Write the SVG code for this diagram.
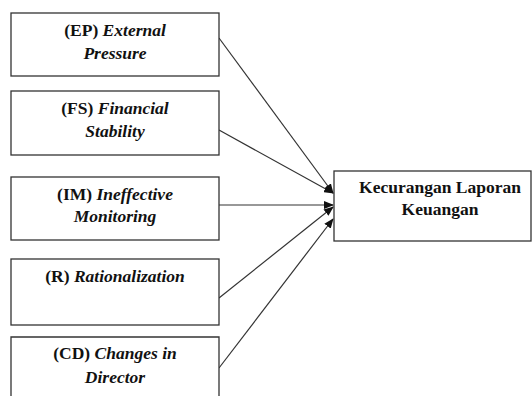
<svg xmlns="http://www.w3.org/2000/svg" width="532" height="396" viewBox="0 0 532 396">
<style>
.box{fill:#fff;stroke:#333;stroke-width:1.3}
.c{stroke:#333;stroke-width:1.2;fill:none;marker-end:url(#ah)}
</style>
<defs>
<marker id="ah" markerWidth="10" markerHeight="8" refX="9" refY="4" orient="auto" markerUnits="userSpaceOnUse">
<path d="M0,0 L10,4 L0,8 z" fill="#111"/>
</marker>
</defs>
<rect width="532" height="396" fill="#fff"/>
<g id="connectors">
<line class="c" x1="219" y1="38" x2="333" y2="193"/>
<line class="c" x1="219" y1="130" x2="333" y2="193"/>
<line class="c" x1="219" y1="205" x2="333" y2="205"/>
<line class="c" x1="219" y1="298" x2="333" y2="207"/>
<line class="c" x1="219" y1="368" x2="333" y2="219"/>
</g>
<g id="ep">
<rect class="box" x="11" y="13" width="208" height="63"/>
<text x="115" y="36" font-family="Liberation Serif" font-size="17.5" font-weight="bold" fill="#111" text-anchor="middle">(EP) <tspan font-style="italic">External</tspan></text>
<text x="115" y="59" font-family="Liberation Serif" font-size="17.5" font-weight="bold" font-style="italic" fill="#111" text-anchor="middle">Pressure</text>
</g>
<g id="fs">
<rect class="box" x="11" y="91" width="208" height="64"/>
<text x="115" y="114" font-family="Liberation Serif" font-size="17.5" font-weight="bold" fill="#111" text-anchor="middle">(FS) <tspan font-style="italic">Financial</tspan></text>
<text x="115" y="137" font-family="Liberation Serif" font-size="17.5" font-weight="bold" font-style="italic" fill="#111" text-anchor="middle">Stability</text>
</g>
<g id="im">
<rect class="box" x="11" y="177" width="208" height="63"/>
<text x="115" y="200" font-family="Liberation Serif" font-size="17.5" font-weight="bold" fill="#111" text-anchor="middle">(IM) <tspan font-style="italic">Ineffective</tspan></text>
<text x="115" y="222" font-family="Liberation Serif" font-size="17.5" font-weight="bold" font-style="italic" fill="#111" text-anchor="middle">Monitoring</text>
</g>
<g id="r">
<rect class="box" x="11" y="259" width="208" height="66"/>
<text x="115" y="282" font-family="Liberation Serif" font-size="17.5" font-weight="bold" fill="#111" text-anchor="middle">(R) <tspan font-style="italic">Rationalization</tspan></text>
</g>
<g id="cd">
<path class="box" d="M11,400 V337 H219 V400"/>
<text x="115" y="359" font-family="Liberation Serif" font-size="17.5" font-weight="bold" fill="#111" text-anchor="middle">(CD) <tspan font-style="italic">Changes in</tspan></text>
<text x="115" y="383" font-family="Liberation Serif" font-size="17.5" font-weight="bold" font-style="italic" fill="#111" text-anchor="middle">Director</text>
</g>
<g id="klk">
<rect class="box" x="334" y="171" width="197" height="70"/>
<text x="440" y="193" font-family="Liberation Serif" font-size="17.5" font-weight="bold" fill="#111" text-anchor="middle">Kecurangan Laporan</text>
<text x="440" y="215" font-family="Liberation Serif" font-size="17.5" font-weight="bold" fill="#111" text-anchor="middle">Keuangan</text>
</g>
</svg>
